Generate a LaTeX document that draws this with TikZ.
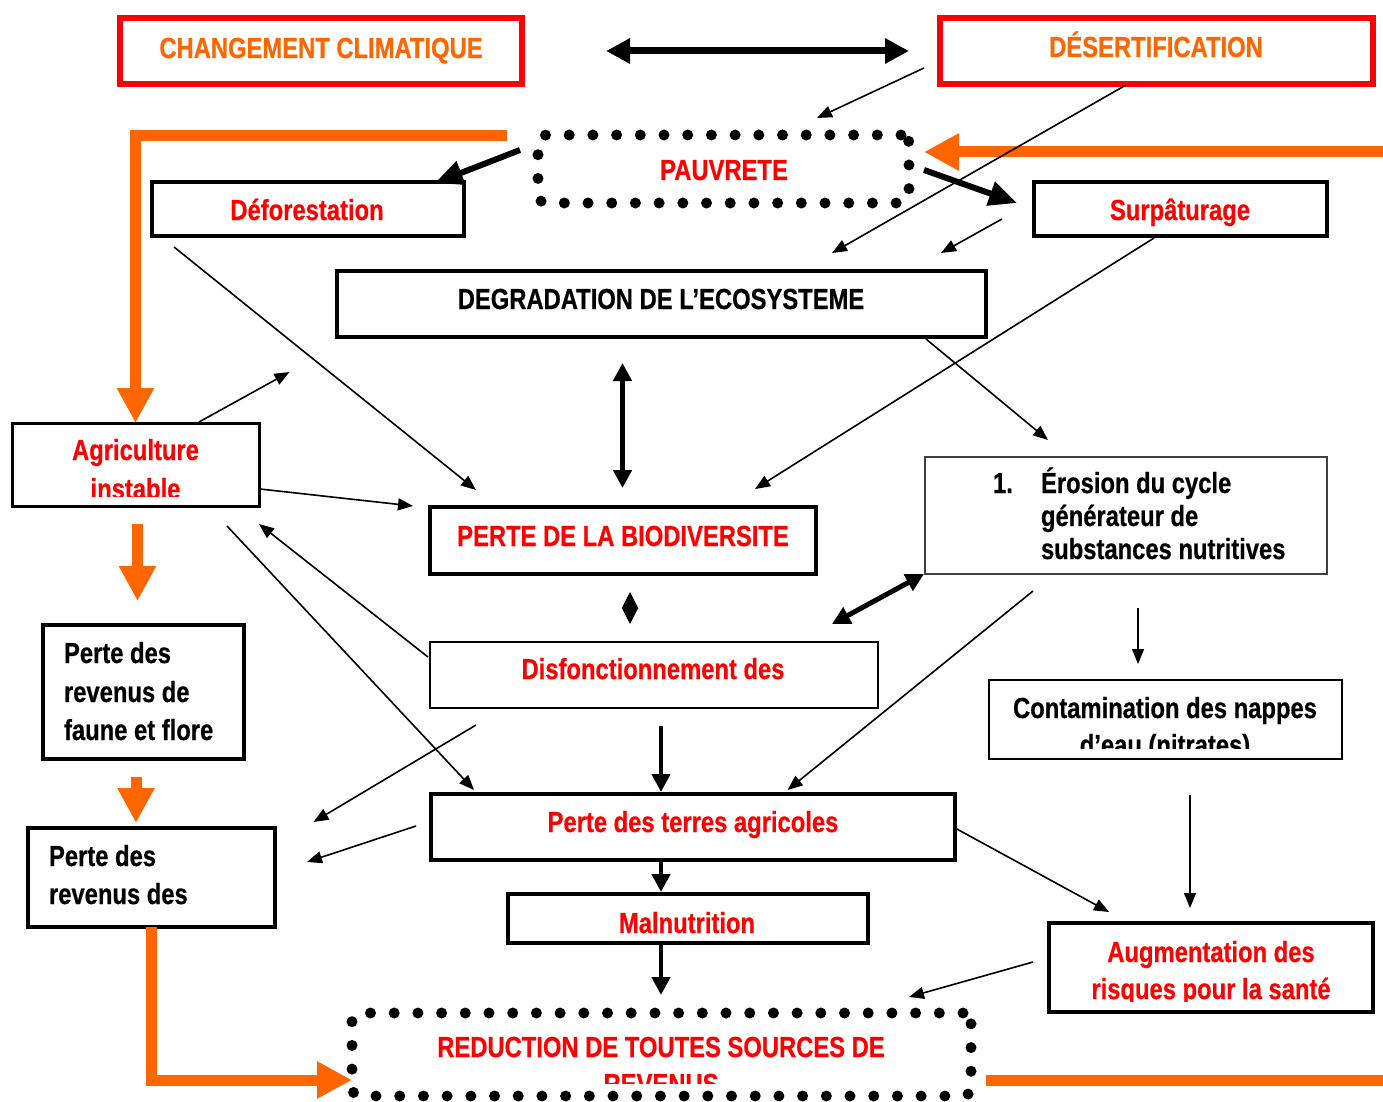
\documentclass[tikz,border=0pt]{standalone}
\usepackage{fontspec}
\newfontfamily\narrowsans{Liberation Sans}[FakeStretch=0.82, BoldFeatures={FakeBold=0.6}]
\usetikzlibrary{arrows.meta,calc}
\definecolor{Red}{HTML}{FF0000}
\definecolor{Orange}{HTML}{FF6600}
\definecolor{EdgeGray}{HTML}{404040}
\tikzset{
  box/.style={
    draw=black,
    line width=#1,
    fill=white,
    inner sep=0pt,
    outer sep=0pt
  },
  box/.default=3.5pt,
  redframe/.style={
    draw=Red,
    line width=6pt,
    fill=white,
    inner sep=0pt,
    outer sep=0pt
  },
  dotframe/.style={
    draw=black,
    line width=11pt,
    line cap=round,
    dash pattern=on 0pt off 23.7pt,
    rounded corners=8pt,
    inner sep=0pt,
    outer sep=0pt
  },
  txt/.style={
    font=\narrowsans\bfseries\fontsize{29}{34}\selectfont,
    text=black,
    inner sep=0pt,
    outer sep=0pt
  },
  redtxt/.style={txt, text=Red},
  orangetxt/.style={txt, text=Orange},
  thinarrow/.style={
    -{Triangle[length=15pt,width=12pt]},
    line width=1.6pt
  },
  boldarrow/.style={
    -{Triangle[length=18pt,width=18pt]},
    line width=4.5pt
  },
  twinarrow/.style={
    {Triangle[length=18pt,width=18pt]}-{Triangle[length=18pt,width=18pt]},
    line width=5pt
  },
  heavyarrow/.style={
    -{Triangle[length=28pt,width=24pt]},
    line width=6pt
  },
  orangearrow/.style={
    -{Triangle[length=35pt,width=35pt]},
    draw=Orange,
    line width=11pt
  }
}
\newcommand{\causebox}[5]{%
  \node[#5, minimum width=#3, minimum height=#4] (#1) at (#2) {};
}

\begin{document}
\begin{tikzpicture}[x=1pt,y=-1pt]
\useasboundingbox (0,0) rectangle (1383,1102);
\fill[white] (0,0) rectangle (1383,1102);

% Top row: climate change, desertification, poverty.
\causebox{clim}{321,51}{402pt}{66pt}{redframe}
\causebox{desert}{1156.5,51}{433pt}{66pt}{redframe}
\causebox{pauv}{723.5,169}{371pt}{68pt}{dotframe}
\causebox{defor}{308,209}{312pt}{54pt}{box=4pt}
\causebox{surp}{1180.5,209}{293pt}{54pt}{box=4pt}
\causebox{degrad}{661.5,304}{649pt}{66pt}{box=4pt}

\node[orangetxt, anchor=base] (clim-t) at (321,58) {CHANGEMENT CLIMATIQUE};
\node[orangetxt, anchor=base] (desert-t) at (1156,57) {DÉSERTIFICATION};
\node[redtxt, anchor=base] (pauv-t) at (724,180) {PAUVRETE};
\node[redtxt, anchor=base] (defor-t) at (307,220) {Déforestation};
\node[redtxt, anchor=base] (surp-t) at (1180,220) {Surpâturage};
\node[txt, anchor=base] (degrad-t) at (661,309) {DEGRADATION DE L’ECOSYSTEME};

% Middle row: agriculture, biodiversity, erosion.
\causebox{agri}{135.5,464.5}{247pt}{83pt}{box=3pt}
\causebox{biodiv}{623,540.5}{386pt}{67pt}{box=4pt}
\causebox{eros}{1126,515.5}{402pt}{117pt}{box=1.2pt, draw=EdgeGray}
\causebox{disf}{654,675}{448pt}{66pt}{box=2.5pt}
\causebox{faune}{143.5,692}{201pt}{134pt}{box=3.5pt}
\causebox{contam}{1165.5,719.5}{353pt}{79pt}{box=2.5pt}

\node[redtxt, anchor=base] (agri-t1) at (135.5,460) {Agriculture};
\begin{scope}
  \clip (agri.north west) rectangle ($(agri.south east)+(0,-10)$);
  \node[redtxt, anchor=base] (agri-t2) at (135.5,499) {instable};
\end{scope}
\node[redtxt, anchor=base] (biodiv-t) at (623,546) {PERTE DE LA BIODIVERSITE};
\node[txt, anchor=base west] (eros-n) at (993,493) {1.};
\node[txt, anchor=base west] (eros-t1) at (1041,493) {Érosion du cycle};
\node[txt, anchor=base west] (eros-t2) at (1041,526) {générateur de};
\node[txt, anchor=base west] (eros-t3) at (1041,559) {substances nutritives};
\node[redtxt, anchor=base] (disf-t) at (653,679) {Disfonctionnement des};
\node[txt, anchor=base west] (faune-t1) at (64,663) {Perte des};
\node[txt, anchor=base west] (faune-t2) at (64,702) {revenus de};
\node[txt, anchor=base west] (faune-t3) at (64,740) {faune et flore};
\node[txt, anchor=base] (contam-t1) at (1165,718) {Contamination des nappes};
\begin{scope}
  \clip (contam.north west) rectangle ($(contam.south east)+(0,-11)$);
  \node[txt, anchor=base] (contam-t2) at (1165,755) {d’eau (nitrates)};
\end{scope}

% Bottom row: land, income, health, final outcome.
\causebox{revenus}{151.5,877.5}{247pt}{99pt}{box=3.5pt}
\causebox{terres}{693,827}{524pt}{66pt}{box=4pt}
\causebox{malnut}{688,918.5}{360pt}{49pt}{box=3.5pt}
\causebox{sante}{1211,967.5}{324pt}{89pt}{box=3.5pt}
\causebox{reduc}{661.5,1054.5}{619pt}{83pt}{dotframe}

\node[txt, anchor=base west] (revenus-t1) at (49,866) {Perte des};
\node[txt, anchor=base west] (revenus-t2) at (49,904) {revenus des};
\node[redtxt, anchor=base] (terres-t) at (693,832) {Perte des terres agricoles};
\node[redtxt, anchor=base] (malnut-t) at (687,933) {Malnutrition};
\node[redtxt, anchor=base] (sante-t1) at (1211,962) {Augmentation des};
\begin{scope}
  \clip (sante.north west) rectangle ($(sante.south east)+(0,-11)$);
  \node[redtxt, anchor=base] (sante-t2) at (1211,999) {risques pour la santé};
\end{scope}
\node[redtxt, anchor=base] (reduc-t1) at (661,1057) {REDUCTION DE TOUTES SOURCES DE};
\begin{scope}
  \clip (reduc.north west) rectangle ($(reduc.south east)+(0,-13)$);
  \node[redtxt, anchor=base] (reduc-t2) at (661,1094) {REVENUS};
\end{scope}

% Free ends.
\coordinate (agriup) at (289.5,372);
\coordinate (revenusup) at (313.5,822);
\coordinate (rimtop) at (1389,152);

% Orange main flow.
\draw[orangearrow] ($(pauv.west)+(-31,-33)$) -| (agri.north);
\draw[orangearrow] ($(reduc.east)+(15,25.5)$) -| (rimtop)
  -- ($(pauv.east)+(15,-17)$);
\draw[orangearrow] ($(agri.south)+(2,18)$) -- ($(faune.north)+(-6,-24)$);
\draw[orangearrow] ($(faune.south)+(-7.5,18)$) -- ($(revenus.north)+(-15.5,-5)$);
\draw[orangearrow] (revenus.south) |- ($(reduc.west)+(0,25.5)$);

% Heavy black arrows.
\draw[{Triangle[length=24pt,width=24pt]}-{Triangle[length=24pt,width=24pt]}, line width=7pt]
  ($(clim.east)+(84,0)$) -- ($(desert.west)+(-31,0)$);
\draw[heavyarrow] ($(pauv.west)+(-18,-19)$) -- ($(defor.north east)+(-29,1)$);
\draw[heavyarrow] ($(pauv.east)+(15,1)$) -- ($(surp.west)+(-17,-6)$);
\draw[twinarrow] ($(degrad.south)+(-39,26)$) -- ($(biodiv.north)+(-0.5,-19)$);
\draw[{Triangle[length=16pt,width=16pt]}-{Triangle[length=16pt,width=16pt]}, line width=1pt]
  ($(biodiv.south)+(7,18)$) -- ($(disf.north)+(-24,-18)$);
\draw[twinarrow] ($(disf.north east)+(-46,-18)$) -- ($(eros.south west)+(-1,0)$);
\draw[boldarrow] ($(disf.south)+(7,18)$) -- ($(terres.north)+(-32,-2)$);
\draw[boldarrow] ($(terres.south)+(-32,0)$) -- ($(malnut.north)+(-27,-2)$);
\draw[boldarrow] ($(malnut.south)+(-27,0)$) -- ($(reduc.north)+(-0.5,-18)$);

% Thin black arrows.
\draw[thinarrow] ($(desert.west)+(-16,17)$) -- ($(pauv.north)+(93.5,-17)$);
\draw[thinarrow] ($(desert.south)+(-30.5,1)$) -- ($(degrad.north)+(170.5,-18)$);
\draw[thinarrow] ($(surp.west)+(-32,10)$) -- ($(degrad.north east)+(-45,-18)$);
\draw[thinarrow] ($(surp.south)+(-26.5,2)$) -- ($(biodiv.north east)+(-61,-18)$);
\draw[thinarrow] ($(defor.south west)+(22,11)$) -- ($(biodiv.north west)+(46,-17)$);
\draw[thinarrow] ($(agri.north)+(63.5,-1)$) -- (agriup);
\draw[thinarrow] ($(agri.east)+(1,24.5)$) -- ($(biodiv.west)+(-17,-34.5)$);
\draw[thinarrow] ($(degrad.south east)+(-60,2)$) -- ($(eros.north west)+(123,-17)$);
\draw[thinarrow] ($(disf.west)+(-2,-18)$) -- ($(agri.south east)+(0,18)$);
\draw[thinarrow] ($(agri.south east)+(-32,20)$) -- ($(terres.north west)+(43,-4)$);
\draw[thinarrow] ($(disf.south west)+(46,17)$) -- (revenusup);
\draw[thinarrow] ($(terres.west)+(-15,-1)$) -- ($(revenus.east)+(32,-15.5)$);
\draw[thinarrow] ($(eros.south)+(-93,17)$) -- ($(terres.north)+(94.6,-4)$);
\draw[thinarrow] ($(eros.south)+(12,34)$) -- ($(contam.north)+(-27.5,-16)$);
\draw[thinarrow] ($(contam.south)+(24.5,36)$) -- ($(sante.north)+(-21,-15)$);
\draw[thinarrow] ($(terres.east)+(0,1)$) -- ($(sante.north west)+(60,-11)$);
\draw[thinarrow] ($(sante.west)+(-16,-5.5)$) -- ($(reduc.north east)+(-62,-16)$);

\end{tikzpicture}
\end{document}
